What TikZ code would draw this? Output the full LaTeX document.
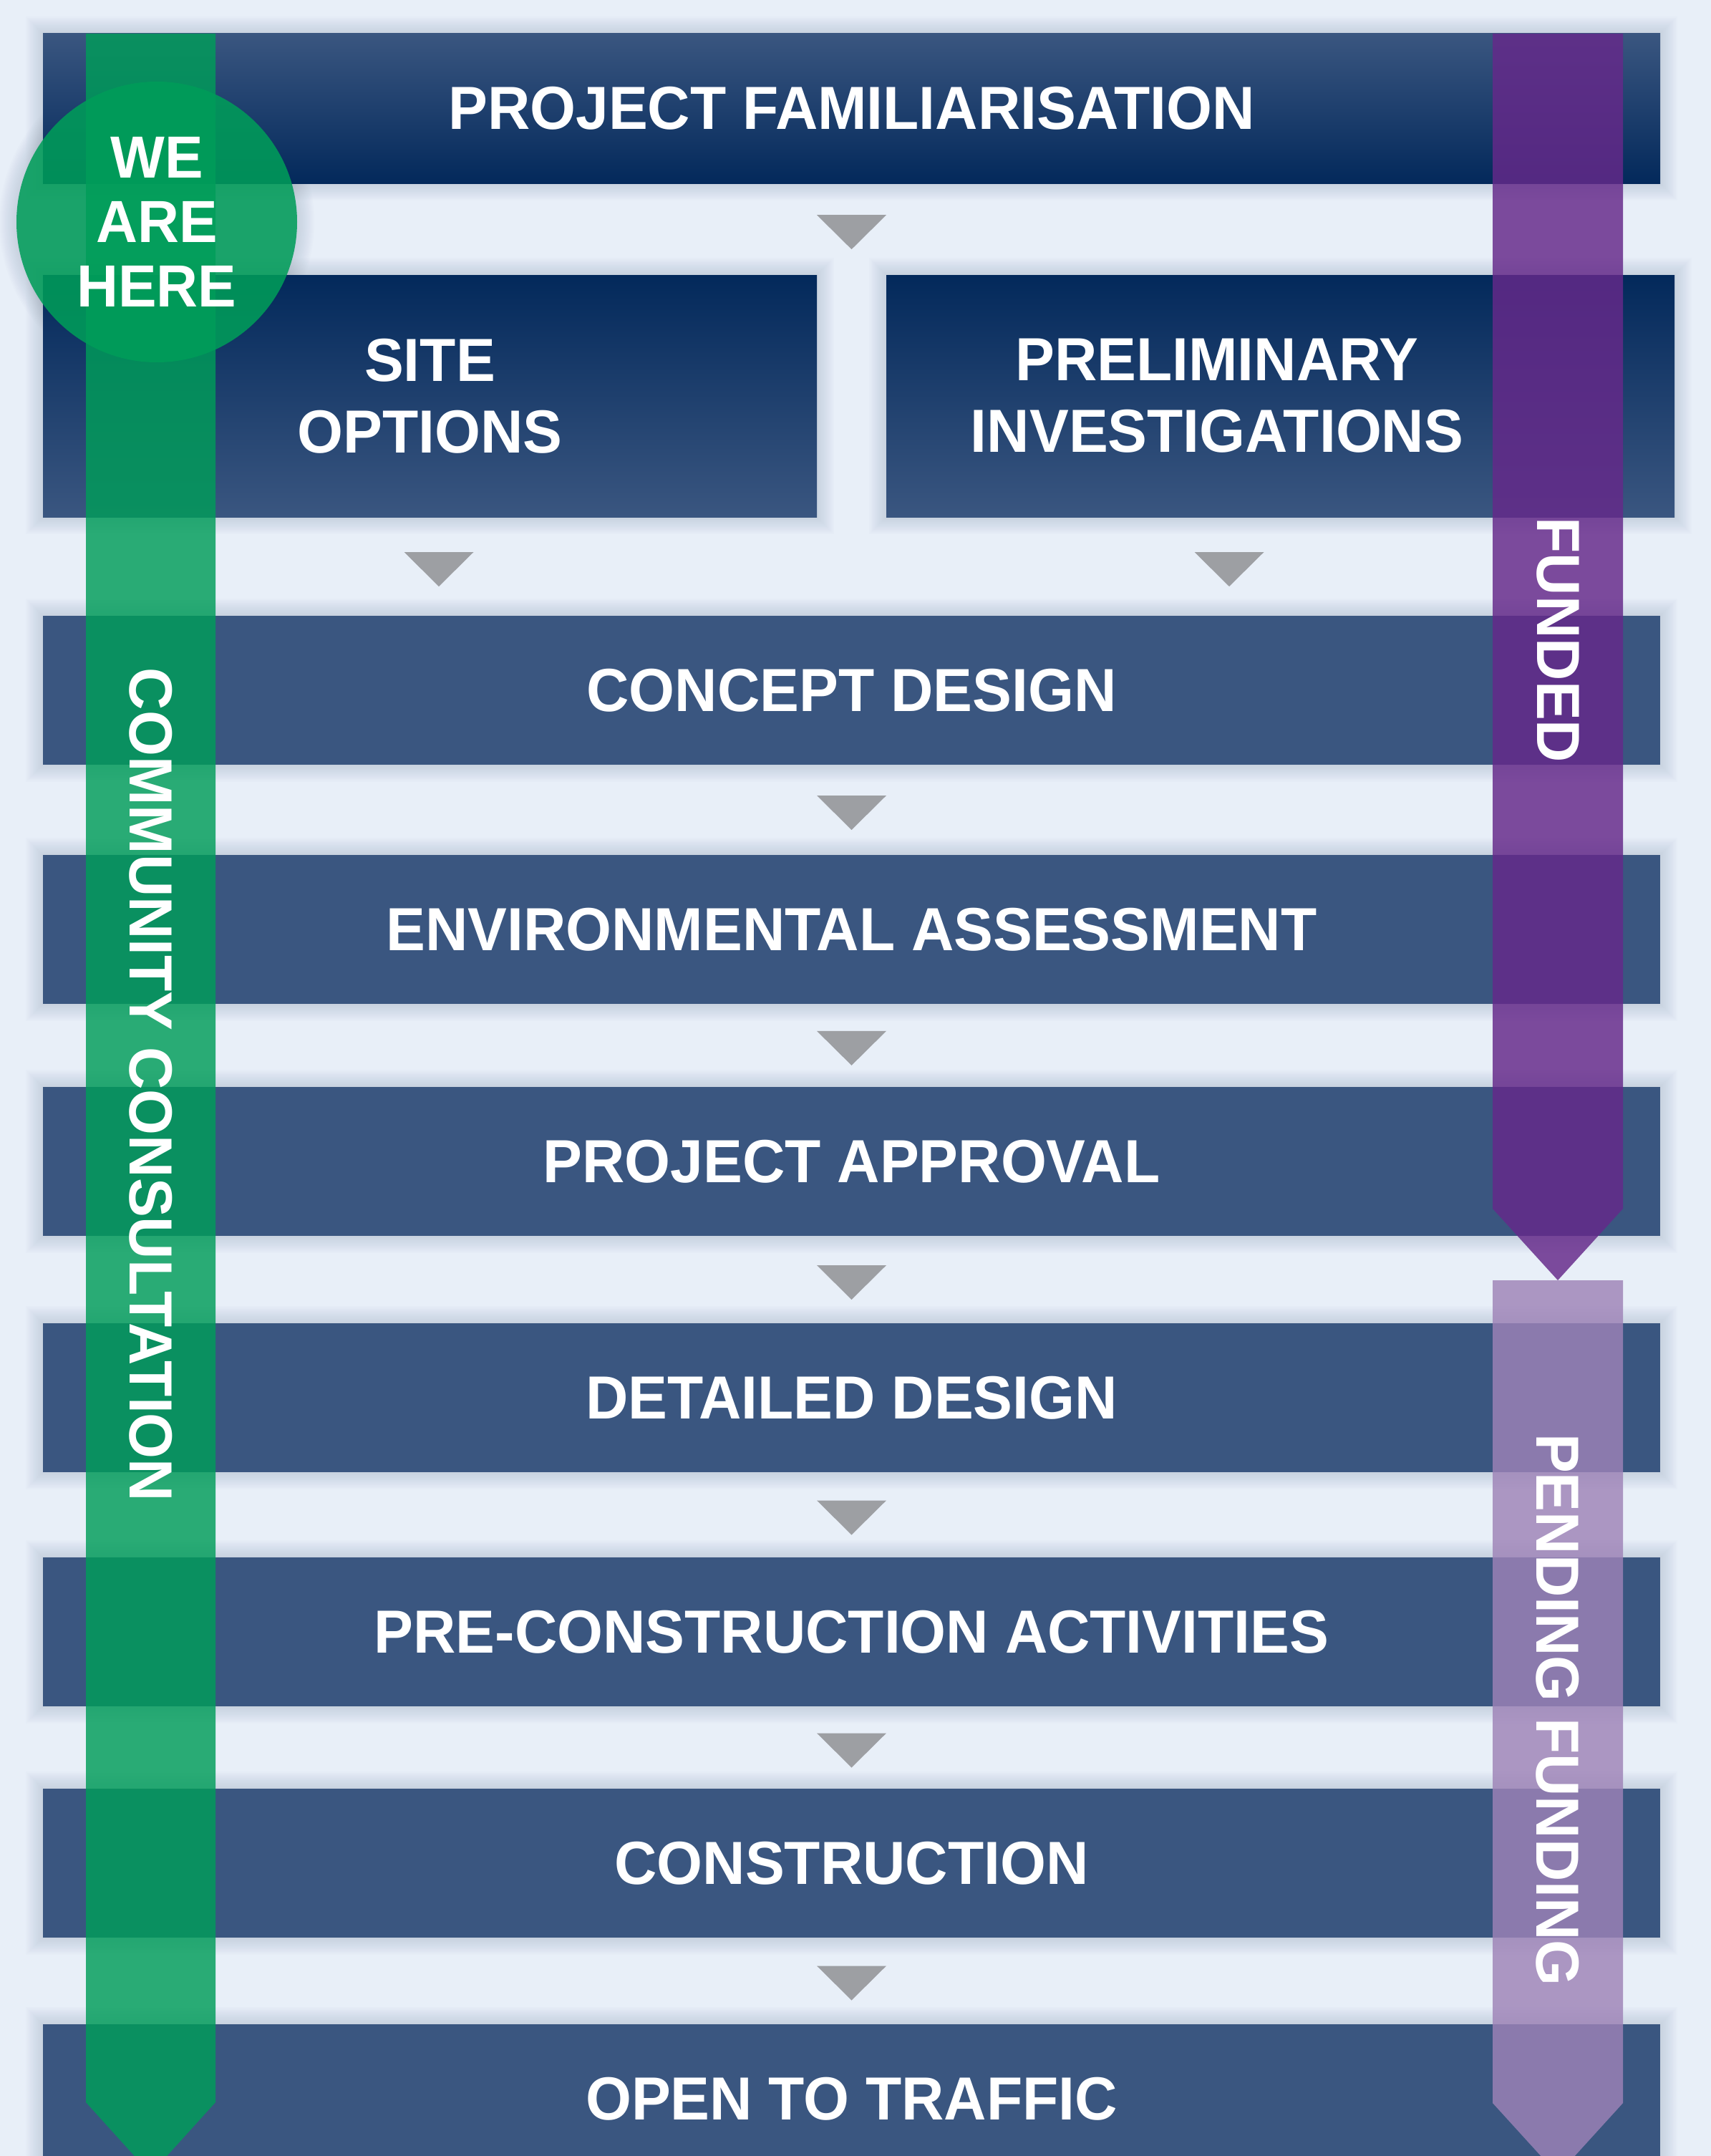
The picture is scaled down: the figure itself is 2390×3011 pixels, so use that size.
\documentclass[tikz,border=0pt]{standalone}
\usepackage{fontspec}
\setmainfont{Liberation Sans}[FakeStretch=0.967]
\usetikzlibrary{calc}
\definecolor{bgc}{RGB}{232,239,248}
\definecolor{boxc}{RGB}{58,86,128}
\definecolor{navyc}{RGB}{3,41,91}
\definecolor{greenc}{RGB}{0,157,89}
\definecolor{purplec}{RGB}{101,41,138}
\definecolor{lilacc}{RGB}{158,131,183}
\definecolor{arrowc}{RGB}{157,159,163}
\definecolor{shadowc}{RGB}{110,125,150}
\newcommand{\stagefont}{\fontsize{85pt}{100pt}\selectfont\bfseries}
\newcommand{\herefont}{\fontsize{83pt}{90pt}\selectfont\bfseries}
\pgfdeclarelayer{background}
\pgfsetlayers{background,main}
\begin{document}
\begin{tikzpicture}[x=1pt,y=-1pt,
  stagebox/.style={rectangle, inner sep=0pt, fill=boxc, text=white, font=\stagefont, align=center},
  fullrow/.style={stagebox, minimum width=2259pt, minimum height=208pt},
  stagetext/.style={inner sep=0pt, text=white, font=\stagefont, align=center},
  bandtext/.style={inner sep=0pt, text=white, font=\stagefont, rotate=-90},
  downtri/.pic={\fill[arrowc] (-48.5,-24) -- (48.5,-24) -- (0,24) -- cycle;}
]
\useasboundingbox (0,0) rectangle (2390,3011);

% stage boxes
\node[stagebox, minimum width=2259pt, minimum height=209pt, top color=boxc, bottom color=navyc] (pf) at (1189.5,151.5) {PROJECT FAMILIARISATION};
\node[stagebox, minimum width=1081pt, minimum height=338pt, top color=navyc, bottom color=boxc] (site) at (600.5,553) {SITE\\OPTIONS};
\node[stagebox, minimum width=1101pt, minimum height=338pt, top color=navyc, bottom color=boxc] (prelim) at (1788.5,553) {};
\node[stagetext] (prelimtext) at (1700,553) {PRELIMINARY\\INVESTIGATIONS};
\node[fullrow] (concept) at (1189.5,964.25) {CONCEPT DESIGN};
\node[fullrow] (env) at (1189.5,1297.75) {ENVIRONMENTAL ASSESSMENT};
\node[fullrow] (appr) at (1189.5,1622) {PROJECT APPROVAL};
\node[fullrow] (detail) at (1189.5,1952) {DETAILED DESIGN};
\node[fullrow] (precon) at (1189.5,2279) {PRE-CONSTRUCTION ACTIVITIES};
\node[fullrow] (constr) at (1189.5,2602) {CONSTRUCTION};
\node[fullrow] (open) at (1189.5,2931) {OPEN TO TRAFFIC};

% arrows between stages
\coordinate (gapsite) at (613,795);
\coordinate (gapprelim) at (1717,795);
\pic at ($(pf.south)+(0,68)$) {downtri};
\pic at (gapsite) {downtri};
\pic at (gapprelim) {downtri};
\pic at ($(concept.south)!0.5!(env.north)+(0,4)$) {downtri};
\pic at ($(env.south)!0.5!(appr.north)+(0,4)$) {downtri};
\pic at ($(appr.south)!0.5!(detail.north)+(0,4)$) {downtri};
\pic at ($(detail.south)!0.5!(precon.north)+(0,4)$) {downtri};
\pic at ($(precon.south)!0.5!(constr.north)+(0,4)$) {downtri};
\pic at ($(constr.south)!0.5!(open.north)+(0,3)$) {downtri};

% bands
\fill[greenc, fill opacity=0.82] (120,47) -- (301,47) -- (301,2936) -- (210.5,3036) -- (120,2936) -- cycle;
\fill[purplec, fill opacity=0.83] (2085,47) -- (2267,47) -- (2267,1688) -- (2176,1788) -- (2085,1688) -- cycle;
\fill[lilacc, fill opacity=0.82] (2085,1788) -- (2267,1788) -- (2267,2937) -- (2176,3037) -- (2085,2937) -- cycle;

\node[bandtext] (cc) at (210.5,1515) {COMMUNITY CONSULTATION};
\node[bandtext] (funded) at (2176,894) {FUNDED};
\node[bandtext] (pending) at (2176,2388) {PENDING FUNDING};

% we are here
\node[circle, fill=greenc, fill opacity=0.87, text opacity=1, text=white, minimum size=392pt, inner sep=0pt, font=\herefont, align=center] (here) at (219,310) {WE\\ARE\\HERE};

% background and shadows
\begin{pgfonlayer}{background}
\fill[bgc] (0,0) rectangle (2390,3011);
\foreach \n in {pf,site,prelim,concept,env,appr,detail,precon,constr,open}{
  \foreach \i in {1,...,12}{
    \fill[shadowc, opacity=0.018] ([shift={(-\i*2pt,\i*2pt)}]\n.north west) rectangle ([shift={(\i*2pt,-\i*2pt)}]\n.south east);
  }
}
\foreach \i in {1,...,12}{
  \fill[shadowc, opacity=0.018] (here.center) circle[radius={196pt+\i*2pt}];
}
\end{pgfonlayer}
\end{tikzpicture}
\end{document}
